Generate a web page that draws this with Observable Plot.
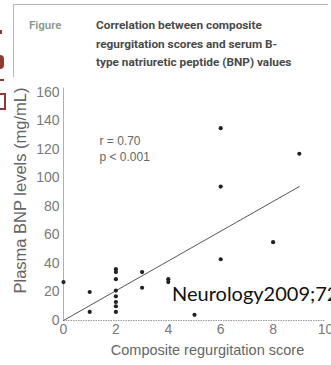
<!DOCTYPE html>
<html>
<head>
<meta charset="utf-8">
<script src="https://cdn.jsdelivr.net/npm/d3@7"></script>
<script src="https://cdn.jsdelivr.net/npm/@observablehq/plot@0.6"></script>
<style>
  html, body { margin: 0; padding: 0; background: #ffffff; }
  #wrap { position: relative; width: 331px; height: 365px; overflow: hidden; background: #fff; }
  #chart { position: absolute; left: 0; top: 0; }
  .box-top { position: absolute; left: 13px; top: 4px; width: 315px; height: 0; border-top: 1.5px solid #b3bdb3; }
  .box-left { position: absolute; left: 13px; top: 4px; width: 0; height: 73px; border-left: 1.5px solid #b3bdb3; }
  .fig { position: absolute; left: 29px; top: 16px; font: 600 11.5px Roboto, "Noto Sans", sans-serif; color: #8a9a8a; line-height: 18.5px; }
  .title { position: absolute; left: 96px; top: 16px; width: 240px; font: 700 11.8px Roboto, "Noto Sans", sans-serif; color: #4a4a4a; line-height: 18.5px; white-space: nowrap; }
  .cite { position: absolute; left: 172px; top: 280px; font: 400 20px Lato, "Open Sans", sans-serif; color: #111; white-space: nowrap; line-height: 26px; }
  .red { position: absolute; background: #8e3b36; }
</style>
</head>
<body>
<div id="wrap">
  <div id="chart"></div>
  <div class="box-top"></div>
  <div class="box-left"></div>
  <div class="fig">Figure</div>
  <div class="title"></div>
  <div class="cite"></div>
  <div class="red" style="left:0;top:30px;width:2px;height:4px;"></div>
  <div class="red" style="left:0;top:55px;width:4px;height:14px;border-radius:0 7px 7px 0;"></div>
  <div class="red" style="left:0;top:79px;width:4px;height:2px;"></div>
  <div class="red" style="left:0;top:93px;width:6px;height:2px;"></div>
  <div class="red" style="left:4px;top:93px;width:2px;height:17px;"></div>
  <div class="red" style="left:0;top:108px;width:6px;height:2px;"></div>
</div>
<script>
// ---- data ----
const titleLines = [
  "Correlation between composite",
  "regurgitation scores and serum B-",
  "type natriuretic peptide (BNP) values"
];
const citation = "Neurology2009;72";
const scores = [0, 1, 1, 2, 2, 2, 2, 2, 2, 2, 2, 3, 3, 4, 4, 5, 6, 6, 6, 8, 9];
const bnp    = [27, 20, 6, 36, 34, 29, 21, 17, 13, 10, 6, 34, 23, 29, 27, 4, 135, 94, 43, 55, 117];
const fitScores = [0, 9];
const fitBnp    = [0, 94];
const xTicks = [0, 2, 4, 6, 8, 10];
const yTicks = [0, 20, 40, 60, 80, 100, 120, 140, 160];
const statLines = ["r = 0.70", "p < 0.001"];
const xTitle = "Composite regurgitation score";
const yTitle = "Plasma BNP levels (mg/mL)";

document.querySelector(".title").innerHTML = titleLines.join("<br>");
document.querySelector(".cite").textContent = citation;

const points = scores.map((s, i) => ({score: s, bnp: bnp[i]}));
const fit = fitScores.map((s, i) => ({score: s, bnp: fitBnp[i]}));

const chart = Plot.plot({
  width: 331,
  height: 365,
  marginLeft: 63,
  marginRight: 6,
  marginTop: 92,
  marginBottom: 45,
  style: {fontFamily: "'Liberation Sans', Arial, sans-serif", fontSize: "14px", color: "#7a7a7a", background: "transparent", overflow: "visible"},
  x: {domain: [0, 10], ticks: xTicks, tickSize: 0, tickPadding: 4, label: null},
  y: {domain: [0, 160], ticks: yTicks, tickSize: 0, tickPadding: 4, label: null},
  marks: [
    Plot.ruleX([0], {y1: 0, y2: 163, stroke: "#b0b0b0", strokeWidth: 1}),
    Plot.ruleY([0], {x1: 0, x2: 10, stroke: "#9a9a9a", strokeWidth: 1, strokeDasharray: "1.5,1"}),
    Plot.line(fit, {x: "score", y: "bnp", stroke: "#555", strokeWidth: 1}),
    Plot.dot(points, {x: "score", y: "bnp", r: 2.1, fill: "#222", stroke: "none"}),
    Plot.text([statLines.join("\n")], {frameAnchor: "top-left", dx: 36, dy: 41, textAnchor: "start", lineAnchor: "top", lineHeight: 1.33, fontSize: 12, fill: "#666"}),
    Plot.text([xTitle], {frameAnchor: "bottom", textAnchor: "middle", lineAnchor: "middle", dx: 13, dy: 30, fontSize: 14.5, fill: "#666"}),
    Plot.text([yTitle], {frameAnchor: "left", textAnchor: "middle", lineAnchor: "middle", rotate: -90, dx: -43, dy: -16, fontSize: 16.5, fill: "#666"})
  ]
});
document.getElementById("chart").appendChild(chart);
</script>
</body>
</html>
